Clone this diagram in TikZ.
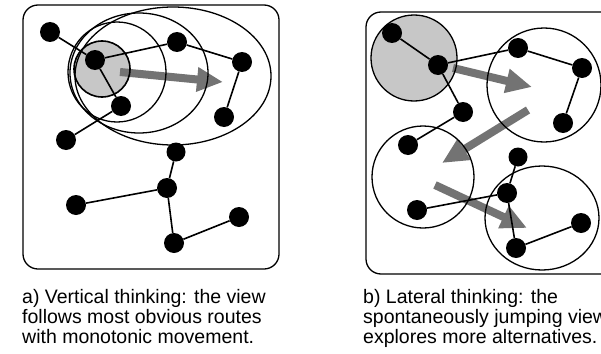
\documentclass[tikz,border=0pt]{standalone}
\usepackage{fontspec}
\newfontfamily\capfont{Liberation Sans}
\usetikzlibrary{arrows.meta}
\tikzset{
  dot/.style={circle,fill=black,draw=none,minimum size=20pt,inner sep=0pt},
  link/.style={line width=1.6pt},
  ring/.style={line width=1.3pt},
  panel/.style={line width=1.3pt,rounded corners=15pt},
  shade/.style={fill=black!22},
  fat/.style={line width=8pt,black!55,-{Triangle[length=26pt,width=23pt]}},
  caption/.style={font=\capfont\fontsize{19.5}{20}\selectfont,align=left,anchor=north west,inner sep=0pt}
}
\begin{document}
\begin{tikzpicture}[x=1pt,y=-1pt]
\clip (0,0) rectangle (601,353);
\fill[white] (0,0) rectangle (601,353);
% ---------- panel a ----------
\draw[panel] (23,5) rectangle (279,269);
\fill[shade] (102,69) circle[radius=28];
\coordinate (pa1) at (120,72);
\coordinate (pa2) at (223,82);
\draw[fat] (pa1) -- (pa2);
\node[dot] (a1) at (50,32) {};
\node[dot] (a2) at (95,60) {};
\node[dot] (a3) at (177,42) {};
\node[dot] (a4) at (242,62) {};
\node[dot] (a5) at (224,117) {};
\node[dot] (a6) at (121,106) {};
\node[dot] (a7) at (66,140) {};
\node[dot,minimum size=19pt] (a8) at (176,152) {};
\node[dot] (a9) at (167,188) {};
\node[dot] (a10) at (76,205) {};
\node[dot] (a11) at (239,217) {};
\node[dot] (a12) at (174,243) {};
\draw[link] (a1) -- (a2) (a2) -- (a3) (a3) -- (a4) (a4) -- (a5)
            (a2) -- (a6) (a6) -- (a7)
            (a8) -- (a9) (a9) -- (a10) (a9) -- (a12) (a12) -- (a11);
\draw[ring,line width=1.6pt] (102,69) circle[radius=28];
\draw[ring] (117,72) ellipse[x radius=49,y radius=50];
\draw[ring] (139,73) ellipse[x radius=69,y radius=60];
\draw[ring] (173,76) ellipse[x radius=98,y radius=69];
% ---------- panel b ----------
\draw[panel] (366,12) rectangle (625,274);
\fill[shade] (414,58) circle[radius=43];
\coordinate (pb1) at (453,68);
\coordinate (pb2) at (532,87);
\coordinate (pb3) at (528,110);
\coordinate (pb4) at (442,163);
\coordinate (pb5) at (435,185);
\coordinate (pb6) at (527,228);
\draw[fat] (pb1) -- (pb2);
\draw[fat] (pb3) -- (pb4);
\draw[fat] (pb5) -- (pb6);
\node[dot] (b1) at (392,33) {};
\node[dot] (b2) at (438,65) {};
\node[dot] (b3) at (518,48) {};
\node[dot] (b4) at (582,68) {};
\node[dot] (b5) at (563,123) {};
\node[dot] (b6) at (463,112) {};
\node[dot] (b7) at (408,145) {};
\node[dot,minimum size=19pt] (b8) at (518,157) {};
\node[dot] (b9) at (507,193) {};
\node[dot] (b10) at (417,210) {};
\node[dot] (b11) at (581,223) {};
\node[dot] (b12) at (516,248) {};
\draw[link] (b1) -- (b2) (b2) -- (b3) (b3) -- (b4) (b4) -- (b5)
            (b2) -- (b6) (b6) -- (b7)
            (b8) -- (b9) (b9) -- (b10) (b9) -- (b12) (b12) -- (b11);
\draw[ring] (414,58) circle[radius=43];
\draw[ring] (544,85) circle[radius=57];
\draw[ring] (423,177) circle[radius=51];
\draw[ring] (542,218) ellipse[x radius=57,y radius=52];
% ---------- captions ----------
\node[caption] (capa) at (22,289) {a) Vertical thinking: the view\\follows most obvious routes\\with monotonic movement.};
\node[caption] (capb) at (363,289) {b) Lateral thinking: the\\spontaneously jumping view\\explores more alternatives.};
\end{tikzpicture}
\end{document}
